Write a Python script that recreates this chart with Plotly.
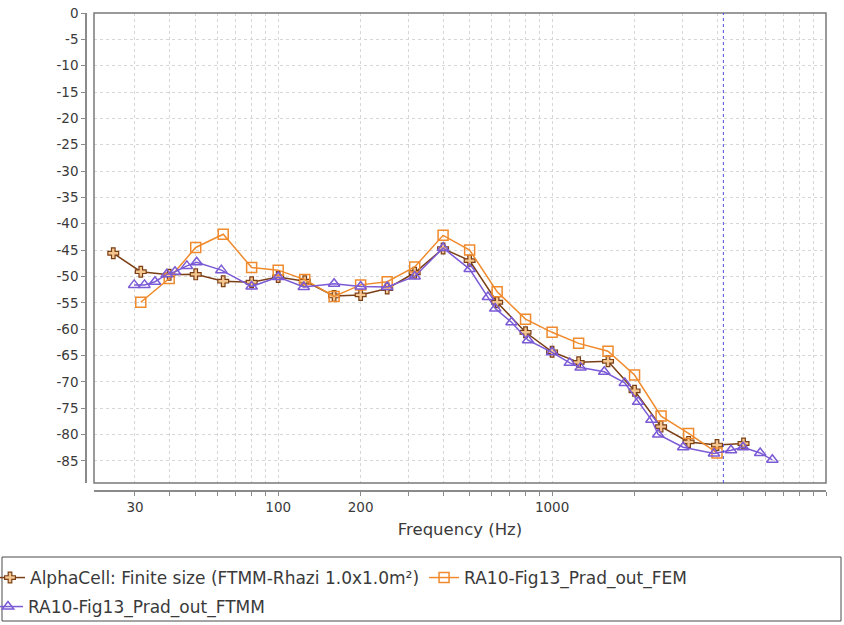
import math
import plotly.graph_objects as go

# ---------------- data ----------------
alpha_freq = [25, 31.5, 40, 50, 63, 80, 100, 125, 160, 200, 250, 315, 400, 500,
              630, 800, 1000, 1250, 1600, 2000, 2500, 3150, 4000, 5000]
alpha_val = [-45.6, -49.1, -49.7, -49.6, -50.9, -51.1, -50.1, -50.9, -53.7, -53.5,
             -52.3, -49.3, -44.7, -47.0, -54.9, -60.6, -64.3, -66.3, -66.1, -71.7,
             -78.5, -81.4, -82.0, -81.7]

fem_freq = [31.5, 40, 50, 63, 80, 100, 125, 160, 200, 250, 315, 400, 500, 630,
            800, 1000, 1250, 1600, 2000, 2500, 3150, 4000]
fem_val = [-54.9, -50.4, -44.5, -42.0, -48.3, -48.8, -50.6, -53.8, -51.6, -51.0,
           -48.2, -42.2, -45.0, -52.9, -58.1, -60.6, -62.7, -64.2, -68.7, -76.5,
           -79.8, -83.5]

ftmm_freq = [29.8, 32.5, 35.5, 39.2, 42, 46.4, 50.4, 62, 80, 100, 124, 160, 200,
             250, 315, 400, 500, 583, 620, 711, 817, 1000, 1160, 1270, 1550, 1842,
             2060, 2305, 2440, 3010, 3900, 4500, 4980, 5750, 6370]
ftmm_val = [-51.6, -51.6, -51.0, -49.6, -49.1, -48.0, -47.3, -48.8, -51.9, -50.1,
            -52.0, -51.4, -51.9, -52.0, -50.0, -44.6, -48.6, -53.9, -56.1, -58.7,
            -62.1, -64.4, -66.4, -67.3, -68.1, -70.2, -73.8, -77.2, -80.0, -82.4,
            -83.6, -83.0, -82.4, -83.5, -84.8]

names = ["AlphaCell: Finite size (FTMM-Rhazi 1.0x1.0m²)",
         "RA10-Fig13_Prad_out_FEM",
         "RA10-Fig13_Prad_out_FTMM"]

x_tick_vals = [30, 100, 200, 1000]
x_tick_text = ["30", "100", "200", "1000"]
y_tick_vals = list(range(0, -90, -5))
y_tick_text = [str(v) for v in y_tick_vals]  # plain hyphen minus

cursor_freq = 4220
x_min, x_max = 21.26, 10000
y_min, y_max = -89.2, 0

# ---------------- layout geometry (pixels, page coords) ----------------
W, H = 844, 625
MB = 100                     # bottom margin so the legend sits below the plot area
GH = H - MB


def fx(x):
    """page pixel x -> paper fraction"""
    return x / W


def fy(y):
    """page pixel y -> paper fraction"""
    return (GH - y) / GH


box_l, box_r, box_t, box_b = 94, 826, 13, 483
xaxis_y = 491
yaxis_x = 86

FONT = "DejaVu Sans"
TXT = "#3a3a3a"
GRID = "#d6d6d6"
AX = "#8a8a8a"

fig = go.Figure()

fig.add_trace(go.Scatter(
    x=alpha_freq, y=alpha_val, name=names[0], mode="lines+markers",
    line=dict(color="#7b3f16", width=1.5),
    marker=dict(symbol="cross", size=9, color="#f3c58f",
                line=dict(color="#7b3f16", width=1.2)),
    legend="legend"))

fig.add_trace(go.Scatter(
    x=fem_freq, y=fem_val, name=names[1], mode="lines+markers",
    line=dict(color="#f08a2c", width=1.5),
    marker=dict(symbol="square-open", size=10, color="#f08a2c",
                line=dict(color="#f08a2c", width=1.5)),
    legend="legend"))

fig.add_trace(go.Scatter(
    x=ftmm_freq, y=ftmm_val, name=names[2], mode="lines+markers",
    line=dict(color="#7b5ad6", width=1.5),
    marker=dict(symbol="triangle-up-open", size=10, color="#7b5ad6",
                line=dict(color="#7b5ad6", width=1.5)),
    legend="legend2"))

minor_x = [m * 10 ** d for d in range(1, 4) for m in range(2, 10)] + [10000]

legend_font = dict(family=FONT, size=17, color=TXT)

fig.update_layout(
    width=W, height=H, autosize=False,
    margin=dict(l=0, r=0, t=0, b=MB, pad=0, autoexpand=False),
    paper_bgcolor="white", plot_bgcolor="white",
    font=dict(family=FONT, size=13.5, color=TXT),
    xaxis=dict(
        type="log", range=[math.log10(x_min), math.log10(x_max)],
        domain=[fx(box_l), fx(box_r)], anchor="free", position=fy(xaxis_y),
        showline=True, linecolor=AX, linewidth=1.5,
        ticks="outside", ticklen=4, tickcolor=AX,
        tickvals=x_tick_vals, ticktext=x_tick_text,
        tickfont=dict(family=FONT, size=13.5, color=TXT),
        ticklabeloverflow="allow",
        showgrid=True, gridcolor=GRID, griddash="dot", gridwidth=1,
        minor=dict(tickvals=minor_x, ticks="outside", ticklen=4,
                   tickcolor=AX, showgrid=True, gridcolor=GRID,
                   griddash="dot", gridwidth=1),
        zeroline=False, automargin=False,
        title=dict(text="Frequency (Hz)", font=dict(family=FONT, size=16.5, color=TXT),
                   standoff=8),
    ),
    yaxis=dict(
        range=[y_min, y_max],
        domain=[fy(box_b), fy(box_t)], anchor="free", position=fx(yaxis_x),
        showline=True, linecolor=AX, linewidth=1.5,
        ticks="outside", ticklen=4, tickcolor=AX,
        tickvals=y_tick_vals, ticktext=y_tick_text,
        tickfont=dict(family=FONT, size=13.5, color=TXT),
        ticklabeloverflow="allow",
        showgrid=True, gridcolor=GRID, griddash="dot", gridwidth=1,
        zeroline=False, automargin=False,
    ),
    legend=dict(orientation="h", x=fx(-10), y=fy(578), xanchor="left", yanchor="middle",
                bgcolor="rgba(0,0,0,0)", itemwidth=30, font=legend_font),
    legend2=dict(orientation="h", x=fx(-12), y=fy(607), xanchor="left", yanchor="middle",
                 bgcolor="rgba(0,0,0,0)", itemwidth=30, font=legend_font),
    shapes=[
        # plot frame
        dict(type="rect", xref="paper", yref="paper",
             x0=fx(box_l), x1=fx(box_r), y0=fy(box_b), y1=fy(box_t),
             line=dict(color="#7a7a7a", width=1.5), layer="above"),
        # cursor line
        dict(type="line", xref="x", yref="paper", x0=cursor_freq, x1=cursor_freq,
             y0=fy(box_b), y1=fy(box_t),
             line=dict(color="#4f4fe0", width=1, dash="3px,3px")),
        # legend box
        dict(type="rect", xref="paper", yref="paper",
             x0=fx(2), x1=fx(841), y0=fy(621), y1=fy(557),
             line=dict(color="#4a4a4a", width=1)),
    ],
)

fig.write_html("out.html", config={"displayModeBar": False},
               post_script="document.body.style.margin='0';")
